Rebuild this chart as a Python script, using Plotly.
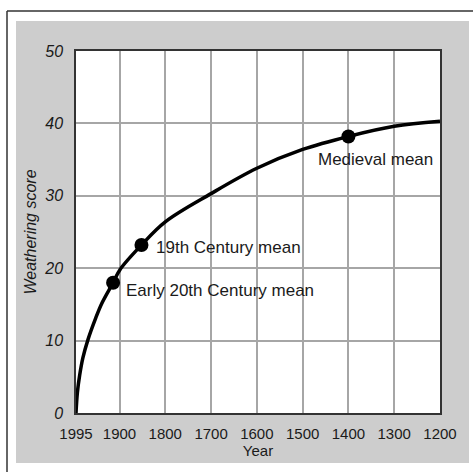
import plotly.graph_objects as go

# Curve data
curve_years = [1995, 1992, 1987, 1980, 1969, 1952, 1939, 1914, 1899, 1852,
               1800, 1700, 1600, 1500, 1400, 1300, 1200]
curve_scores = [0, 2.8, 5.2, 7.6, 10.1, 13.1, 15.1, 18.0, 19.8, 23.2,
                26.4, 30.3, 33.8, 36.4, 38.2, 39.6, 40.3]

# Mean points
point_labels = ["Early 20th Century mean", "19th Century mean", "Medieval mean"]
point_years = [1914, 1852, 1400]
point_scores = [18.0, 23.2, 38.2]

x_tickvals = [1995, 1900, 1800, 1700, 1600, 1500, 1400, 1300, 1200]
x_ticktext = ["1995", "1900", "1800", "1700", "1600", "1500", "1400", "1300", "1200"]
y_tickvals = [0, 10, 20, 30, 40, 50]

W, H = 473, 472
L, R, T, B = 76, 440, 51, 413

def px_x(p):
    return (p - L) / (R - L)

def px_y(p):
    return (B - p) / (B - T)

FONT = "Liberation Sans, Arial, Helvetica, sans-serif"
TXT = "#1a1a1a"

fig = go.Figure()
fig.add_trace(go.Scatter(
    x=curve_years, y=curve_scores, mode="lines",
    line=dict(color="black", width=3.5, shape="spline", smoothing=1.0),
    hoverinfo="skip", showlegend=False,
))
fig.add_trace(go.Scatter(
    x=point_years, y=point_scores, mode="markers",
    marker=dict(color="black", size=14),
    showlegend=False,
))

label_offsets = [dict(xanchor="left", xshift=11, yshift=-8),
                 dict(xanchor="left", xshift=13, yshift=-2),
                 dict(xanchor="center", xshift=27, yshift=-23)]
for lab, xv, yv, off in zip(point_labels, point_years, point_scores, label_offsets):
    fig.add_annotation(x=xv, y=yv, text=lab, showarrow=False,
                       font=dict(family=FONT, size=17, color=TXT),
                       yanchor="middle", **off)

shapes = []
# white strips around the gray panel
for (x0, y0, x1, y1) in [(0, 0, 15, H), (0, 0, W, 20), (470, 0, W, H), (0, 464, W, H)]:
    shapes.append(dict(type="rect", xref="paper", yref="paper",
                       x0=px_x(x0 - 1), x1=px_x(x1 + 1), y0=px_y(y1 + 1), y1=px_y(y0 - 1),
                       fillcolor="white", line=dict(width=0), layer="below"))
# outer frame lines (left & top)
shapes.append(dict(type="line", xref="paper", yref="paper",
                   x0=px_x(7), x1=px_x(W + 5), y0=px_y(11), y1=px_y(11),
                   line=dict(color="#333333", width=1.5)))
shapes.append(dict(type="line", xref="paper", yref="paper",
                   x0=px_x(7), x1=px_x(7), y0=px_y(11), y1=px_y(H + 5),
                   line=dict(color="#333333", width=1.5)))

fig.update_layout(
    width=W, height=H,
    margin=dict(l=L, r=W - R, t=T, b=H - B, pad=0),
    paper_bgcolor="#cdcdcd",
    plot_bgcolor="white",
    shapes=shapes,
    font=dict(family=FONT, color=TXT),
    xaxis=dict(
        range=[1995, 1200], tickvals=x_tickvals, ticktext=x_ticktext,
        showgrid=True, gridcolor="#a6a6a6", gridwidth=1.5,
        showline=True, linecolor="#333333", linewidth=1.5, mirror=True,
        ticks="", ticklabelstandoff=6, zeroline=False, automargin=False,
        tickfont=dict(family=FONT, size=15, color=TXT),
        title=dict(text="Year", font=dict(family=FONT, size=15, color=TXT), standoff=2),
    ),
    yaxis=dict(
        range=[0, 50], tickvals=y_tickvals,
        ticktext=["<i>%d</i>" % v for v in y_tickvals],
        showgrid=True, gridcolor="#a6a6a6", gridwidth=1.5,
        showline=True, linecolor="#333333", linewidth=1.5, mirror=True,
        ticks="", ticklabelstandoff=8, zeroline=False, automargin=False,
        tickfont=dict(family=FONT, size=16, color=TXT),
        title=dict(text="<i>Weathering score</i>", font=dict(family=FONT, size=16, color=TXT), standoff=4),
    ),
)

fig.write_html(
    "out.html",
    config={"displayModeBar": False},
    post_script="document.body.style.margin='0px';document.body.style.overflow='hidden';",
)
